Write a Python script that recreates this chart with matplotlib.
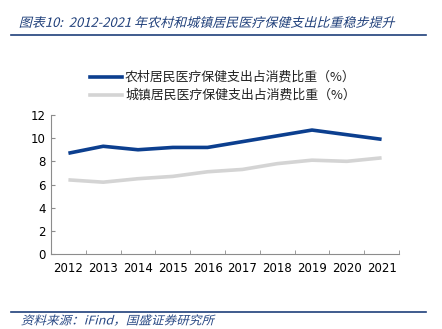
import matplotlib
matplotlib.use('Agg')
import matplotlib.pyplot as plt
from matplotlib.lines import Line2D
from matplotlib.textpath import TextPath
from matplotlib.patches import PathPatch
from matplotlib.font_manager import FontProperties
from matplotlib.transforms import Affine2D

plt.rcParams['font.family'] = ['Noto Sans CJK SC', 'DejaVu Sans']

years = ['2012', '2013', '2014', '2015', '2016', '2017', '2018', '2019', '2020', '2021']
rural = [8.7, 9.3, 9.0, 9.2, 9.2, 9.7, 10.2, 10.7, 10.3, 9.9]
urban = [6.4, 6.2, 6.5, 6.7, 7.1, 7.3, 7.8, 8.1, 8.0, 8.3]
rural_label = '农村居民医疗保健支出占消费比重（%）'
urban_label = '城镇居民医疗保健支出占消费比重（%）'
title = '图表10:  2012-2021 年农村和城镇居民医疗保健支出比重稳步提升'
source = '资料来源：iFind，国盛证券研究所'

BLUE = '#0c3f8f'
GREY = '#d4d4d4'
TITLE_BLUE = '#1f3f7a'

fig = plt.figure(figsize=(4.42, 3.29), dpi=100)
W, H = 442, 329
ax = fig.add_axes([51 / W, (H - 254) / H, 348 / W, 139 / H])

x = list(range(len(years)))
ax.plot(x, rural, color=BLUE, lw=2.6, solid_capstyle='butt', zorder=3)
ax.plot(x, urban, color=GREY, lw=2.6, solid_capstyle='butt', zorder=2)

ax.set_xlim(-0.5, len(years) - 0.5)
ax.set_ylim(0, 12)
ax.set_yticks(range(0, 13, 2))
ax.set_xticks(x)
ax.set_xticklabels(years)
ax.set_xticks([i - 0.5 for i in range(len(years) + 1)], minor=True)
ax.tick_params(axis='x', which='major', length=0, pad=6, labelsize=8.5)
ax.tick_params(axis='x', which='minor', direction='in', length=3, color='#8c8c8c')
ax.tick_params(axis='y', direction='in', length=3, color='#8c8c8c', pad=4, labelsize=8.5)
for lab in ax.get_xticklabels() + ax.get_yticklabels():
    lab.set_family('DejaVu Sans')
for s in ['top', 'right']:
    ax.spines[s].set_visible(False)
for s in ['left', 'bottom']:
    ax.spines[s].set_color('#8c8c8c')
    ax.spines[s].set_linewidth(0.8)

# legend drawn by hand in figure pixels
for ypix, col, lab in [(77, BLUE, rural_label), (95, GREY, urban_label)]:
    fy = (H - ypix) / H
    fig.add_artist(Line2D([90 / W, 122 / W], [fy, fy], color=col, lw=2.6,
                          transform=fig.transFigure))
    fig.text(125 / W, fy, lab, fontsize=9.3, va='center', ha='left', color='#222222')


def slanted_text(s, xpix, ypix, size, color, width=None, weight='normal'):
    # CJK fonts have no italic face, so shear the glyph outlines instead
    prop = FontProperties(family='Noto Sans CJK SC', weight=weight)
    tp = TextPath((0, 0), s, size=size, prop=prop)
    sc = fig.dpi / 72
    ext = tp.get_extents()
    sx = sc if width is None else width / ext.width
    tr = (Affine2D().translate(0, -ext.height / 2 - ext.y0).skew_deg(14, 0)
          .scale(sx, sc).translate(xpix, H - ypix))
    fig.add_artist(PathPatch(tp, transform=tr, facecolor=color, lw=0))


slanted_text(title, 20, 22, 9.2, TITLE_BLUE, width=374, weight='medium')
fig.add_artist(Line2D([11 / W, 426 / W], [(H - 35) / H] * 2, color=TITLE_BLUE, lw=1.2,
                      transform=fig.transFigure))
fig.add_artist(Line2D([11 / W, 426 / W], [(H - 312) / H] * 2, color=TITLE_BLUE, lw=1.2,
                      transform=fig.transFigure))
slanted_text(source, 22, 320, 8.6, '#2a4a85', width=192, weight='light')

fig.savefig('out.png', dpi=100)
